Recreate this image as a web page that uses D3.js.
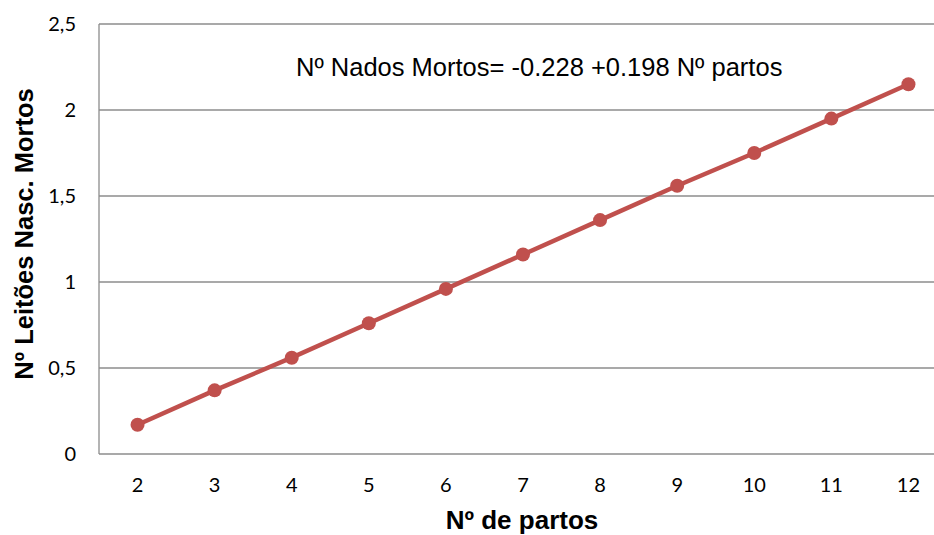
<!DOCTYPE html>
<html>
<head>
<meta charset="utf-8">
<script src="https://cdn.jsdelivr.net/npm/d3@7"></script>
<style>
  body { margin: 0; background: #fff; }
  svg { display: block; }
</style>
</head>
<body>
<svg width="934" height="535"></svg>
<script>
const partos = [2, 3, 4, 5, 6, 7, 8, 9, 10, 11, 12];
const mortos = [0.17, 0.37, 0.56, 0.76, 0.96, 1.16, 1.36, 1.56, 1.75, 1.95, 2.15];
const yTicks = [0, 0.5, 1, 1.5, 2, 2.5];
const equacao = "Nº Nados Mortos= -0.228 +0.198 Nº partos";

const svg = d3.select("svg");
const m = { left: 99, right: 947, top: 24, bottom: 454 };

const x = d3.scaleBand().domain(partos).range([m.left, m.right]);
const y = d3.scaleLinear().domain([0, 2.5]).range([m.bottom, m.top]);
const fmt = d => String(d).replace(".", ",");

// gridlines
svg.append("g")
  .selectAll("line")
  .data(yTicks)
  .enter()
  .append("line")
  .attr("x1", m.left)
  .attr("x2", m.right)
  .attr("y1", d => y(d))
  .attr("y2", d => y(d))
  .attr("stroke", "#8c8c8c")
  .attr("stroke-width", 1.3);

// y axis line
svg.append("line")
  .attr("x1", m.left).attr("x2", m.left)
  .attr("y1", m.top).attr("y2", m.bottom)
  .attr("stroke", "#8c8c8c")
  .attr("stroke-width", 1.3);

// tick labels
svg.append("g")
  .selectAll("text")
  .data(yTicks)
  .enter()
  .append("text")
  .attr("x", 76)
  .attr("y", d => y(d) + 7)
  .attr("text-anchor", "end")
  .style("font-family", "Lato, 'Open Sans', sans-serif")
  .style("font-size", "20px")
  .text(fmt);

svg.append("g")
  .selectAll("text")
  .data(partos)
  .enter()
  .append("text")
  .attr("x", d => x(d) + x.bandwidth() / 2)
  .attr("y", 492)
  .attr("text-anchor", "middle")
  .style("font-family", "Lato, 'Open Sans', sans-serif")
  .style("font-size", "20px")
  .text(d => d);

// series
const line = d3.line()
  .x((d, i) => x(partos[i]) + x.bandwidth() / 2)
  .y(d => y(d));

svg.append("path")
  .datum(mortos)
  .attr("d", line)
  .attr("fill", "none")
  .attr("stroke", "#c0504d")
  .attr("stroke-width", 4.5);

svg.append("g")
  .selectAll("circle")
  .data(mortos)
  .enter()
  .append("circle")
  .attr("cx", (d, i) => x(partos[i]) + x.bandwidth() / 2)
  .attr("cy", d => y(d))
  .attr("r", 7)
  .attr("fill", "#c0504d");

// annotation
svg.append("text")
  .attr("x", 296)
  .attr("y", 76)
  .style("font-family", "'Liberation Sans', Arial, sans-serif")
  .style("font-size", "25.5px")
  .text(equacao);

// axis titles
svg.append("text")
  .attr("x", 522)
  .attr("y", 529)
  .attr("text-anchor", "middle")
  .style("font-family", "'Liberation Sans', Arial, sans-serif")
  .style("font-size", "26px")
  .style("font-weight", "bold")
  .text("Nº de partos");

svg.append("text")
  .attr("transform", "translate(33,234) rotate(-90)")
  .attr("text-anchor", "middle")
  .style("font-family", "'Liberation Sans', Arial, sans-serif")
  .style("font-size", "25.5px")
  .style("font-weight", "bold")
  .text("Nº Leitões Nasc. Mortos");
</script>
</body>
</html>
